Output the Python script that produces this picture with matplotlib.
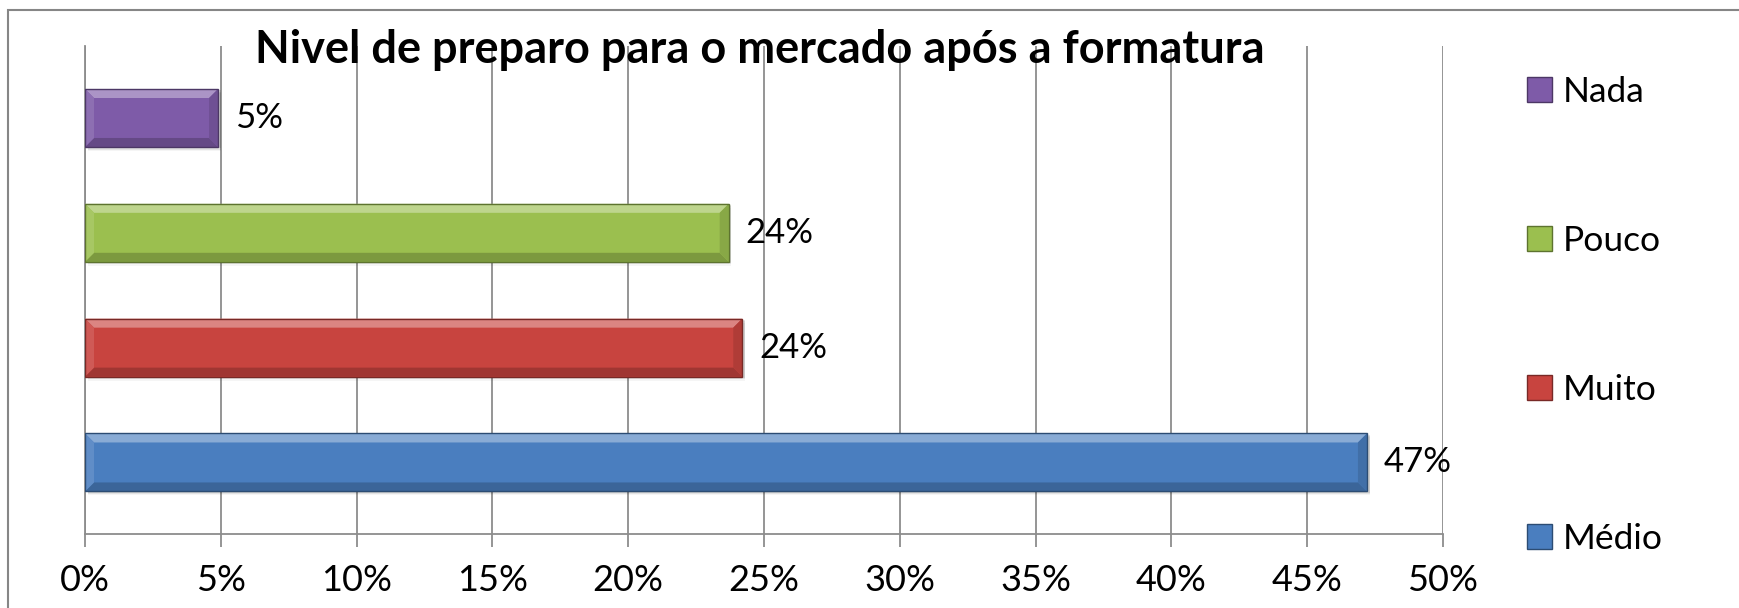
import numpy as np
import matplotlib
matplotlib.use("Agg")
import matplotlib.pyplot as plt
from matplotlib.patches import Polygon, Rectangle
from matplotlib.colors import to_rgb

plt.rcParams['font.family'] = ['Lato', 'DejaVu Sans']

# data (bottom to top)
categories = ["Médio", "Muito", "Pouco", "Nada"]
values = [47.2, 24.2, 23.7, 4.9]          # percent
colors = ["#4a7ebf", "#c8443f", "#9bbf4f", "#7e5ba8"]
xticks = [0, 5, 10, 15, 20, 25, 30, 35, 40, 45, 50]
title = "Nivel de preparo para o mercado após a formatura"


def shade(c, f):
    r = np.array(to_rgb(c))
    if f >= 0:
        return tuple(r + (1 - r) * f)
    return tuple(r * (1 + f))


fig = plt.figure(figsize=(17.4, 6.08), dpi=100)
ax = fig.add_axes([85 / 1740, 1 - 534 / 608, (1443 - 85) / 1740, (534 - 46) / 608])
ax.set_xlim(0, 50)
ax.set_ylim(-0.623, 3.627)

grid_c = "#8c8c8c"
ypos = np.arange(len(categories))
bars = ax.barh(ypos, values, height=0.505, color=colors, edgecolor="none", zorder=3)

# px -> data sizes for the bevel effect
inv = ax.transData.inverted()
p0 = inv.transform((0, 0))
p1 = inv.transform((9, 9))
bx, by = p1[0] - p0[0], p1[1] - p0[1]
s1 = inv.transform((0, -4))
sy = p0[1] - s1[1]

for b, c in zip(bars, colors):
    x0, y0 = b.get_x(), b.get_y()
    x1, y1 = x0 + b.get_width(), y0 + b.get_height()
    # soft shadow under the bar
    for k, a in zip(range(3), [0.10, 0.07, 0.04]):
        ax.add_patch(Rectangle((x0 + bx * 0.3, y0 - sy * (k + 1) / 3), b.get_width(), b.get_height(),
                               color="black", alpha=a, lw=0, zorder=2))
    top = Polygon([(x0, y1), (x1, y1), (x1 - bx, y1 - by), (x0 + bx, y1 - by)], closed=True,
                  color=shade(c, 0.35), lw=0, zorder=4)
    bot = Polygon([(x0, y0), (x1, y0), (x1 - bx, y0 + by), (x0 + bx, y0 + by)], closed=True,
                  color=shade(c, -0.2), lw=0, zorder=4)
    left = Polygon([(x0, y0), (x0, y1), (x0 + bx, y1 - by), (x0 + bx, y0 + by)], closed=True,
                   color=shade(c, 0.12), lw=0, zorder=4)
    right = Polygon([(x1, y0), (x1, y1), (x1 - bx, y1 - by), (x1 - bx, y0 + by)], closed=True,
                    color=shade(c, -0.12), lw=0, zorder=4)
    for p in (top, bot, left, right):
        ax.add_patch(p)
    ax.add_patch(Rectangle((x0, y0), b.get_width(), b.get_height(), fill=False,
                           ec=shade(c, -0.4), lw=1.0, zorder=5))
    ax.annotate(f"{round(b.get_width()):d}%", (x1, y0 + b.get_height() / 2),
                xytext=(12, 0), textcoords="offset points", va="center", ha="left",
                fontsize=25, zorder=6)

ax.set_xticks(xticks)
ax.set_xticklabels([f"{t}%" for t in xticks], fontsize=26)
ax.set_yticks([])
ax.tick_params(axis="x", direction="out", length=9.5, width=1.3, color=grid_c, pad=12)
ax.grid(axis="x", color=grid_c, lw=1.3, zorder=0)
ax.set_axisbelow(True)
for s in ["top", "right"]:
    ax.spines[s].set_visible(False)
ax.spines["bottom"].set_color(grid_c)
ax.spines["bottom"].set_linewidth(1.3)
ax.spines["left"].set_color(grid_c)
ax.spines["left"].set_linewidth(1.3)

fig.text(760 / 1740, 1 - 50 / 608, title, ha="center", va="center",
         fontsize=32.5, fontweight="bold")

# legend, top to bottom
handles = [Rectangle((0, 0), 1, 1, fc=c, ec=shade(c, -0.4), lw=1) for c in colors][::-1]
leg = fig.legend(handles, categories[::-1], loc="upper left",
                 bbox_to_anchor=(1527 / 1740, 1 - 76 / 608), frameon=False,
                 fontsize=25.5, handlelength=0.7, handleheight=0.7, handletextpad=0.3,
                 labelspacing=3.3, borderpad=0, borderaxespad=0)

# chart area frame (cropped at right/bottom)
fig.patches.append(Rectangle((8 / 1740, -0.2), 1.5, 1 - 10 / 608 + 0.2, fill=False,
                             ec="#868686", lw=1.5, transform=fig.transFigure, figure=fig))

fig.savefig("out.png", dpi=100)
